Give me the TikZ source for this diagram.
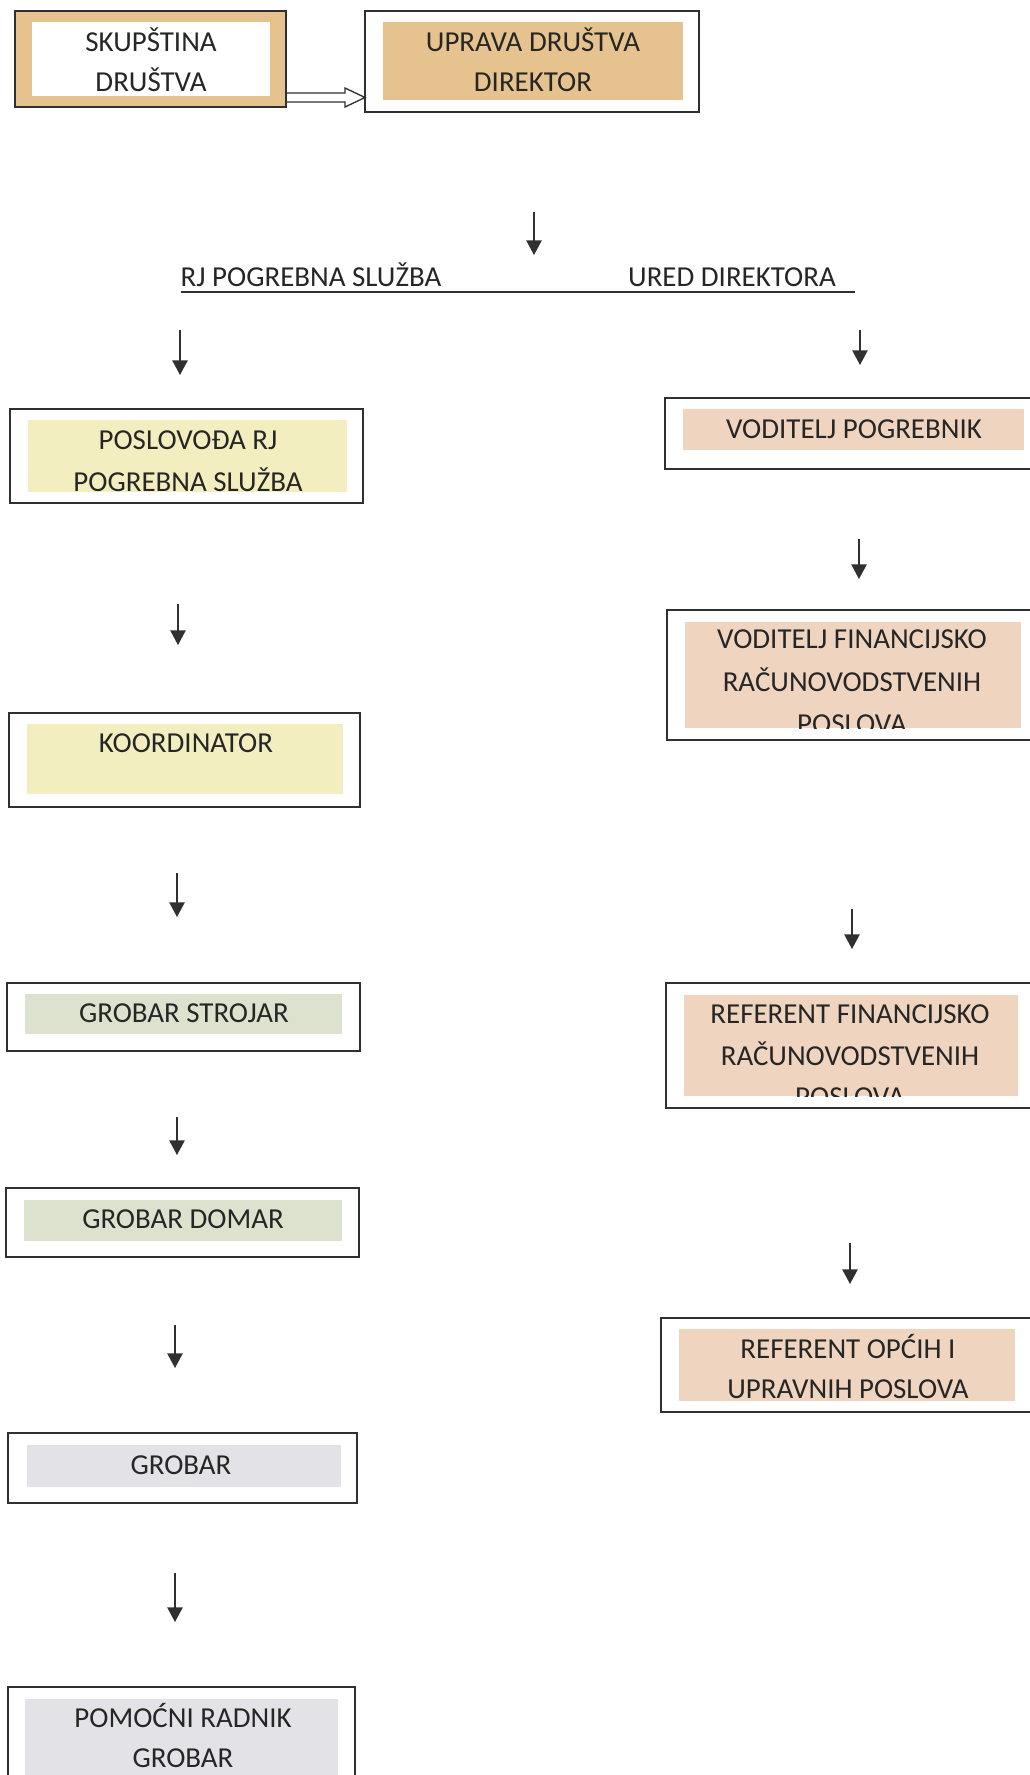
\documentclass[tikz,border=0pt]{standalone}
\usepackage{fontspec}
\setmainfont{Carlito}
\usetikzlibrary{arrows.meta,calc}
\definecolor{tanc}{HTML}{E6C38E}
\definecolor{yelc}{HTML}{F3EEC0}
\definecolor{peac}{HTML}{EFD4C0}
\definecolor{grnc}{HTML}{DCE2CE}
\definecolor{gryc}{HTML}{E3E3E7}
\definecolor{linec}{HTML}{303030}
\definecolor{txtc}{HTML}{262626}
% name, x1, y1, x2, y2, style
\newcommand\orgrect[6]{%
  \node[#6, minimum width={(#4-#2)*0.75pt}, minimum height={(#5-#3)*0.75pt}]
    (#1) at ({(#2+#4)/2},{(#3+#5)/2}) {};}
% name, x, ycap-centre, text
\newcommand\orgline[4]{%
  \node[txt] (#1) at (#2,{#3+9.3}) {#4};}
\tikzset{
  obox/.style={draw=linec, line width=1.5pt, inner sep=0pt, outer sep=0pt, rectangle},
  ibox/.style={draw=none, inner sep=0pt, outer sep=0pt, rectangle},
  txt/.style={anchor=base, inner sep=0pt, text=txtc, font=\fontsize{21.7}{26}\selectfont},
  arr/.style={draw=linec, line width=1.1pt, -{Triangle[width=11.5pt,length=11pt]}},
  dblarr/.style={draw=linec, line width=1pt, line join=miter}
}
\begin{document}
\begin{tikzpicture}[x=0.75pt, y=-0.75pt]
\useasboundingbox (0,0) rectangle (1030,1775);
\clip (0,0) rectangle (1030,1775);
\fill[white] (0,0) rectangle (1030,1775);

% top boxes
\orgrect{sk}{15}{11}{286}{107}{obox, fill=tanc}
\orgrect{skin}{32}{22}{270}{96}{ibox, fill=white}
\orgline{sk1}{151}{42}{SKUPŠTINA}
\orgline{sk2}{151}{82}{DRUŠTVA}

\orgrect{up}{365}{11}{699}{112}{obox, fill=white}
\orgrect{upin}{383}{22}{683}{100}{ibox, fill=tanc}
\orgline{up1}{533}{42}{UPRAVA DRUŠTVA}
\orgline{up2}{533}{82}{DIREKTOR}

% double-line arrow
\coordinate (dA) at (286,97.5);
\draw[dblarr] ($(sk.east|-dA)+(0,-4.5)$) -- ++(59,0) -- ++(0,-5)
  -- (up.west|-dA) -- ++(-20,9.5) -- ++(0,-5) -- ($(sk.east|-dA)+(0,4.5)$);

% arrow from director
\coordinate (a0s) at (534,212); \coordinate (a0e) at (534,255);
\draw[arr] (a0s) -- (a0e);

% branch labels and underline
\orgline{rj}{311}{277}{RJ POGREBNA SLUŽBA}
\orgline{ured}{732}{277}{URED DIREKTORA}
\coordinate (ulL) at (181,292); \coordinate (ulR) at (855,292);
\draw[linec, line width=1.4pt] (ulL) -- (ulR);

% left column
\orgrect{p1}{10}{409}{363}{503}{obox, fill=white}
\orgrect{p1in}{28}{420}{347}{492}{ibox, fill=yelc}
\orgline{p1a}{188}{440}{POSLOVOĐA RJ}
\orgline{p1b}{188}{482}{POGREBNA SLUŽBA}

\orgrect{ko}{9}{713}{360}{807}{obox, fill=white}
\orgrect{koin}{27}{724}{343}{794}{ibox, fill=yelc}
\orgline{ko1}{186}{743}{KOORDINATOR}

\orgrect{gs}{7}{983}{360}{1051}{obox, fill=white}
\orgrect{gsin}{25}{994}{342}{1034}{ibox, fill=grnc}
\orgline{gs1}{184}{1013}{GROBAR STROJAR}

\orgrect{gd}{6}{1188}{359}{1257}{obox, fill=white}
\orgrect{gdin}{24}{1200}{342}{1241}{ibox, fill=grnc}
\orgline{gd1}{183}{1219}{GROBAR DOMAR}

\orgrect{gr}{8}{1433}{357}{1503}{obox, fill=white}
\orgrect{grin}{27}{1445}{341}{1487}{ibox, fill=gryc}
\orgline{gr1}{181}{1465}{GROBAR}

\orgrect{pr}{8}{1687}{355}{1800}{obox, fill=white}
\orgrect{prin}{25}{1699}{338}{1786}{ibox, fill=gryc}
\orgline{pr1}{183}{1718}{POMOĆNI RADNIK}
\orgline{pr2}{183}{1758}{GROBAR}

% right column
\orgrect{vp}{665}{398}{1045}{469}{obox, fill=white}
\orgrect{vpin}{683}{409}{1024}{450}{ibox, fill=peac}
\orgline{vp1}{854}{429}{VODITELJ POGREBNIK}

\orgrect{vf}{667}{610}{1045}{740}{obox, fill=white}
\orgrect{vfin}{685}{622}{1021}{728}{ibox, fill=peac}
\orgline{vf1}{852}{639}{VODITELJ FINANCIJSKO}
\orgline{vf2}{852}{682}{RAČUNOVODSTVENIH}
\begin{scope}
\clip (vfin.south west) rectangle (vfin.north east);
\orgline{vf3}{852}{724}{POSLOVA}
\end{scope}

\orgrect{rf}{666}{983}{1045}{1108}{obox, fill=white}
\orgrect{rfin}{684}{995}{1018}{1096}{ibox, fill=peac}
\orgline{rf1}{850}{1014}{REFERENT FINANCIJSKO}
\orgline{rf2}{850}{1056}{RAČUNOVODSTVENIH}
\begin{scope}
\clip (rfin.south west) rectangle (rfin.north east);
\orgline{rf3}{850}{1097}{POSLOVA}
\end{scope}

\orgrect{ro}{661}{1318}{1045}{1412}{obox, fill=white}
\orgrect{roin}{679}{1329}{1015}{1401}{ibox, fill=peac}
\orgline{ro1}{848}{1349}{REFERENT OPĆIH I}
\orgline{ro2}{848}{1389}{UPRAVNIH POSLOVA}

% left arrows
\coordinate (l1s) at (180,330);  \coordinate (l1e) at (180,375);
\coordinate (l2s) at (178,604);  \coordinate (l2e) at (178,645);
\coordinate (l3s) at (177,873);  \coordinate (l3e) at (177,917);
\coordinate (l4s) at (177,1117); \coordinate (l4e) at (177,1155);
\coordinate (l5s) at (175,1325); \coordinate (l5e) at (175,1368);
\coordinate (l6s) at (175,1573); \coordinate (l6e) at (175,1622);
\foreach \i in {1,...,6} {\draw[arr] (l\i s) -- (l\i e);}

% right arrows
\coordinate (r1s) at (860,330);  \coordinate (r1e) at (860,365);
\coordinate (r2s) at (859,539);  \coordinate (r2e) at (859,579);
\coordinate (r3s) at (852,909);  \coordinate (r3e) at (852,949);
\coordinate (r4s) at (850,1243); \coordinate (r4e) at (850,1284);
\foreach \i in {1,...,4} {\draw[arr] (r\i s) -- (r\i e);}
\end{tikzpicture}
\end{document}
